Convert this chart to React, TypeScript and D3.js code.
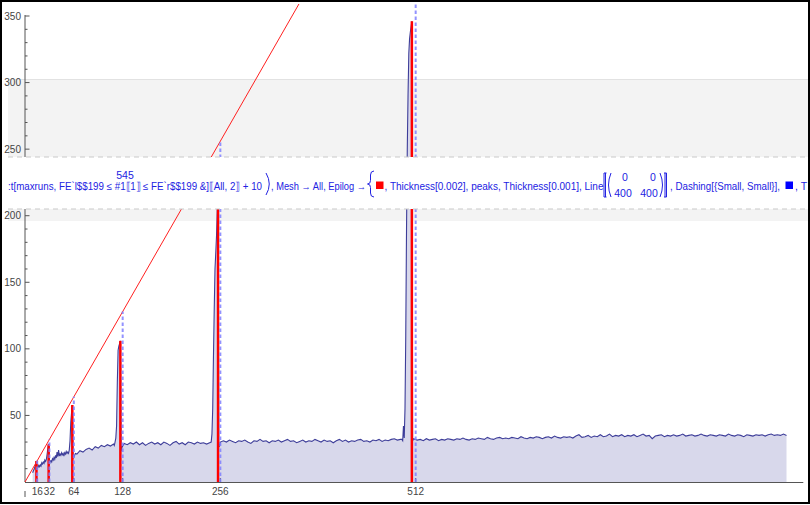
import React from 'react';
import * as d3 from 'd3';

const W = 810;
const H = 505;

// run-length samples: each run has its own start and step on x
const lowRun = [
  7, 8.5, 9.5, 11.5, 13.5, 15.8, 10.5, 11, 12.5, 11.5,
  13, 12, 14.5, 13.5, 15, 14, 16.5, 15.5, 17, 21,
  25.5, 28.3, 13, 15.5, 16, 15, 17.5, 16.5, 18.5, 17,
  20, 18, 22.5, 19, 24, 19.5, 21, 20, 22, 20.5,
  21.5, 19.5, 22, 21, 23, 21.5, 22.5, 21.5, 24, 31,
  45, 52, 57.8, 21, 18.5, 20, 21.5,
]; // x 10..66
const run1 = [21, 23.5, 22.5, 24.5, 25.5, 24, 26.5, 25.5, 27.5, 26.5, 28, 27, 28.5]; // x 68..116
const spike128 = [27.5, 30, 33, 42, 75, 99, 102, 104, 106, 23, 26]; // x 117..127
const run2 = [
  29, 28, 29.5, 28.5, 30, 28, 29.5, 27.5, 29, 30,
  28.5, 29.5, 28, 30, 29, 27.5, 29.5, 30.5, 28.5, 29.5,
  28, 30, 29.5, 28.5, 30, 29, 29.5, 28.5, 29.5,
]; // x 130..242
const spike256 = [30, 36, 55, 95, 130, 160, 172, 185, 205, 232, 28, 27, 30]; // x 244..256
const run3 = [
  31, 30, 31.5, 30.5, 29.5, 31, 30.5, 31.5, 30, 29,
  31, 30.5, 32, 30.5, 31, 29.5, 31, 30.5, 31.5, 30,
  31, 32, 30.5, 31, 29.5, 30.5, 31.5, 30, 31, 30.5,
  32, 31, 30, 31.5, 30.5, 31, 29.5, 31, 32, 30.5,
  31.5, 30, 31, 30.5, 31.5, 32, 30.5, 31, 30, 31.5,
  31, 32, 30.5, 31.5, 31, 32, 32.5, 31.5, 32,
]; // x 260..492
const spike512 = [32, 31, 42, 33, 55, 110, 190, 250, 291, 322, 333, 338, 342, 346, 31, 32.5]; // x 494..509
const run4 = [
  31.5, 32, 31, 32.5, 31.5, 32, 32.5, 31, 32, 31.5,
  32.5, 32, 31.5, 32.5, 32, 33, 32, 31.5, 32.5, 32,
  33, 32.5, 32, 33.5, 32.5, 32, 33, 33.5, 32.5, 33,
  32.5, 33.5, 33, 32.5, 34, 33, 32.5, 33.5, 33, 34,
  33.5, 32.5, 33.5, 34, 33, 34.5, 33.5, 33, 34, 33.5,
  34, 33, 34.5, 35.5, 33.5, 34, 35, 33.5, 34.5, 34,
  35.5, 34, 34.5, 36, 34, 35, 34.5, 35.5, 34, 35,
  34.5, 35.5, 34, 35, 36, 34.5, 35, 32.5, 34.5, 35,
  35.5, 34, 35, 34.5, 35.5, 34.5, 35, 36, 34.5, 35,
  35.5, 34.5, 35, 36, 35, 34.5, 35.5, 35, 34.5, 35.5,
  35, 34.5, 36, 35, 34.5, 35.5, 35, 34, 35.5, 35,
  34.5, 35.5, 35, 35.5, 34.5, 35.5, 36, 35, 35.5, 35,
  36, 35,
]; // x 514..998

const runs = [
  { start: 10, step: 1, values: lowRun },
  { start: 68, step: 4, values: run1 },
  { start: 117, step: 1, values: spike128 },
  { start: 130, step: 4, values: run2 },
  { start: 244, step: 1, values: spike256 },
  { start: 260, step: 4, values: run3 },
  { start: 494, step: 1, values: spike512 },
  { start: 514, step: 4, values: run4 },
];

const peakX = [15, 31, 62, 125, 253, 507];
const peakY = [15.8, 28.3, 57.8, 106, 232, 346];
const powers = [16, 32, 64, 128, 256, 512];
const yMajor = [50, 100, 150, 200, 250, 300, 350];
const yMinor = [10, 20, 30, 40, 60, 70, 80, 90, 110, 120, 130, 140, 160, 170, 180, 190,
  210, 220, 230, 240, 260, 270, 280, 290, 310, 320, 330, 340];
const diag = [[0, 0], [400, 400]];

const LINE = 'rgb(61,61,153)';
const FILL = 'rgb(216,216,235)';
const MSG = '#2222e2';
const FONT = '"Liberation Sans", Arial, sans-serif';

const App = () => {
  const series = runs.flatMap(r => r.values.map((v, i) => [r.start + i * r.step, v]));

  const x = d3.scaleLinear().domain([0, 1020]).range([25, 803.3]);
  const y = d3.scaleLinear().domain([0, 350]).range([482, 16]);

  const line = d3.line().x(d => x(d[0])).y(d => y(d[1]));
  const area = d3.area().x(d => x(d[0])).y0(y(0)).y1(d => y(d[1]));

  const tickColor = '#555';

  return (
    <div style={{ position: 'absolute', left: 0, top: 0 }}>
      <svg width={W} height={H} style={{ display: 'block' }} fontFamily={FONT}>
        <defs>
          <clipPath id="plotClip">
            <rect x={20} y={4} width={788} height={490} />
          </clipPath>
        </defs>
        <rect x={0} y={0} width={W} height={H} fill="#fff" />

        {/* light gray cell highlight behind the plot */}
        <rect x={8} y={79} width={800} height={142} fill="#f3f3f3" />
        <line x1={8} x2={808} y1={79.5} y2={79.5} stroke="#e2e2e2" />

        {/* data */}
        <path d={area(series)} fill={FILL} />
        <path d={line(series)} fill="none" stroke={LINE} strokeWidth={1.1} />

        {/* axes */}
        <g stroke={tickColor} strokeWidth={1}>
          <line x1={x(0)} x2={x(0)} y1={15} y2={y(0)} />
          <line x1={x(0)} x2={x(0)} y1={491} y2={497} />
          <line x1={x(0)} x2={803.3} y1={y(0) + 0.5} y2={y(0) + 0.5} />
          {yMajor.map(v => (
            <line key={'M' + v} x1={x(0)} x2={x(0) + 4.5} y1={y(v)} y2={y(v)} />
          ))}
          {yMinor.map(v => (
            <line key={'m' + v} x1={x(0)} x2={x(0) + 2.5} y1={y(v)} y2={y(v)} />
          ))}
          {powers.map(p => (
            <line key={'xt' + p} x1={x(p)} x2={x(p)} y1={y(0)} y2={y(0) - 4} />
          ))}
        </g>
        <g fill="#444" fontSize={10}>
          {yMajor.map(v => (
            <text key={'yl' + v} x={21} y={y(v) + 3.5} textAnchor="end">{v}</text>
          ))}
          {powers.map(p => (
            <text key={'xl' + p} x={x(p)} y={495} textAnchor="middle">{p}</text>
          ))}
        </g>

        {/* epilog */}
        <g clipPath="url(#plotClip)">
          {peakX.map((p, i) => (
            <line key={'pk' + p} x1={x(p)} x2={x(p)} y1={y(0)} y2={y(peakY[i])}
              stroke="#ff0000" strokeWidth={2.5} />
          ))}
          <path d={d3.line().x(d => x(d[0])).y(d => y(d[1]))(diag)} fill="none"
            stroke="#ff2020" strokeWidth={1} />
          {powers.map(p => (
            <line key={'g' + p} x1={x(p)} x2={x(p)} y1={y(0)} y2={y(p)}
              stroke="#7f7fff" strokeOpacity={0.85} strokeWidth={2} strokeDasharray="3.5,2.5" />
          ))}
        </g>

        {/* message band over the plot */}
        <rect x={2} y={157} width={806} height={52} fill="#fff" />
        <g stroke="#c9c9c9" strokeDasharray="5,4">
          <line x1={8} x2={808} y1={157} y2={157} />
          <line x1={8} x2={808} y1={209} y2={209} />
        </g>
        <g fill={MSG} fontSize={10.5}>
          <text x={125} y={178.5} textAnchor="middle">545</text>
          <text x={8} y={190} textLength={254} lengthAdjust="spacingAndGlyphs">
            {':t[maxruns, FE`l$$199 ≤ #1⟦1⟧ ≤ FE`r$$199 &]⟦All, 2⟧ + 10'}
          </text>
          <text x={271} y={190} textLength={95} lengthAdjust="spacingAndGlyphs">
            {', Mesh → All, Epilog →'}
          </text>
          <text x={384.5} y={190} textLength={219} lengthAdjust="spacingAndGlyphs">
            {', Thickness[0.002], peaks, Thickness[0.001], Line'}
          </text>
          <text x={625} y={180.5} textAnchor="middle">0</text>
          <text x={653} y={180.5} textAnchor="middle">0</text>
          <text x={623} y={196.5} textAnchor="middle">400</text>
          <text x={649} y={196.5} textAnchor="middle">400</text>
          <text x={670} y={190} textLength={110} lengthAdjust="spacingAndGlyphs">
            {', Dashing[{Small, Small}],'}
          </text>
          <text x={795} y={190}>{', T'}</text>
        </g>
        <g fill="none" stroke={MSG} strokeWidth={1}>
          <path d="M266,173 Q272.5,184 266,195" />
          <path d="M374,171 Q370.5,171 370.5,175 L370.5,180.5 Q370.5,184 367.5,184 Q370.5,184 370.5,187.5 L370.5,193 Q370.5,197 374,197" />
          <path d="M606.5,173 L604,173 L604,197 L606.5,197 M605.5,173 L605.5,197" />
          <path d="M611,173 Q606,185 611,197" />
          <path d="M660,173 Q665,185 660,197" />
          <path d="M664,173 L666.5,173 L666.5,197 L664,197 M665,173 L665,197" />
        </g>
        <rect x={376} y={181.5} width={7.5} height={7.5} fill="#ff0000" />
        <rect x={785.5} y={181.5} width={7.5} height={7.5} fill="#0000ff" />

        <rect x={1} y={1} width={808} height={502} fill="none" stroke="#000" strokeWidth={2} />
      </svg>
    </div>
  );
};

export default App;
